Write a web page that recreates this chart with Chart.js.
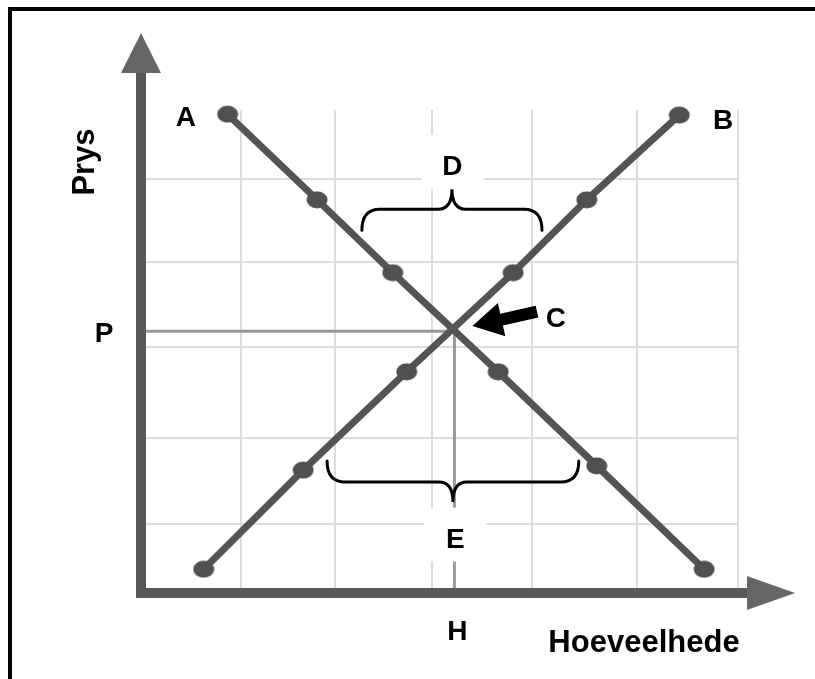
<!DOCTYPE html>
<html>
<head>
<meta charset="utf-8">
<title>Prys en Hoeveelhede</title>
<script src="https://cdn.jsdelivr.net/npm/chart.js@4/dist/chart.umd.min.js"></script>
<style>
  html, body { margin: 0; padding: 0; background: #fff; }
  canvas { display: block; }
</style>
</head>
<body>
<canvas id="chart" width="815" height="679"></canvas>
<script>
// Data
const xGridTicks = [1, 1.95, 2.92, 3.93, 4.98, 6];
const yGridTicks = [0.81, 1.83, 2.9, 3.91, 4.89];

const demandX = [0.87, 1.77, 2.53, 3.59, 4.58, 5.66];
const demandY = [5.65, 4.64, 3.78, 2.61, 1.5, 0.28];
const supplyX = [0.63, 1.63, 2.67, 3.74, 4.48, 5.41];
const supplyY = [0.28, 1.45, 2.61, 3.78, 4.64, 5.64];

const equilibriumQ = 3.15; // H
const equilibriumP = 3.09; // P

const labelNames = ['A', 'B', 'C', 'D', 'E', 'H', 'P'];
const labelX = [0.45, 5.85, 4.17, 3.13, 3.16, 3.18, -0.37];
const labelY = [5.61, 5.58, 3.24, 5.03, 0.63, -0.45, 3.07];
// D and E sit on a white patch that hides the grid behind them
const labelsWithPatch = ['D', 'E'];

// Braces: [x start, x end, y of the bar], D opens downward, E opens upward
const braceD = [2.22, 4.03, 4.53];
const braceE = [1.87, 4.4, 1.31];

// Arrow pointing at C: tail and tip
const arrowTail = [3.98, 3.32];
const arrowTip = [3.33, 3.15];

const pointsOf = (xs, ys) => xs.map((x, i) => ({ x, y: ys[i] }));

// Slightly flattened dots like in the picture
function makeDot() {
  const c = document.createElement('canvas');
  c.width = 22;
  c.height = 18;
  const g = c.getContext('2d');
  g.fillStyle = '#505050';
  g.beginPath();
  g.ellipse(11, 9, 10.5, 8.5, 0, 0, Math.PI * 2);
  g.fill();
  return c;
}
const dot = makeDot();

// Frame, axes with arrow heads, braces, arrow and labels
const decorations = {
  id: 'decorations',
  beforeDraw(chart) {
    const ctx = chart.ctx;
    ctx.save();
    ctx.strokeStyle = '#000';
    ctx.lineWidth = 4;
    ctx.strokeRect(10, 9, 900, 800);
    ctx.restore();
  },
  afterDatasetsDraw(chart) {
    const ctx = chart.ctx;
    const xs = chart.scales.x;
    const ys = chart.scales.y;
    const x0 = xs.getPixelForValue(0);
    const y0 = ys.getPixelForValue(0);

    ctx.save();
    // white patches behind D and E
    ctx.fillStyle = '#fff';
    labelNames.forEach((name, i) => {
      if (!labelsWithPatch.includes(name)) return;
      const px = xs.getPixelForValue(labelX[i]);
      const py = ys.getPixelForValue(labelY[i]);
      ctx.fillRect(px - 31, py - 32, 62, 54);
    });

    // axes
    ctx.strokeStyle = '#585858';
    ctx.lineWidth = 10;
    ctx.lineCap = 'butt';
    ctx.beginPath();
    ctx.moveTo(x0, y0 + 5);
    ctx.lineTo(x0, 70);
    ctx.moveTo(x0 - 5, y0);
    ctx.lineTo(750, y0);
    ctx.stroke();

    ctx.fillStyle = '#666';
    ctx.beginPath();
    ctx.moveTo(x0, 33);
    ctx.lineTo(x0 + 20, 73);
    ctx.lineTo(x0 - 20, 73);
    ctx.closePath();
    ctx.fill();
    ctx.beginPath();
    ctx.moveTo(795, y0);
    ctx.lineTo(747, y0 - 17);
    ctx.lineTo(747, y0 + 17);
    ctx.closePath();
    ctx.fill();

    // braces
    function brace(b, dir) {
      const a = xs.getPixelForValue(b[0]);
      const e = xs.getPixelForValue(b[1]);
      const y = ys.getPixelForValue(b[2]);
      const c = (a + e) / 2;
      const d = 21 * dir;
      const k = 20 * dir;
      ctx.beginPath();
      ctx.moveTo(a, y + d);
      ctx.quadraticCurveTo(a, y, a + 18, y);
      ctx.lineTo(c - 14, y);
      ctx.quadraticCurveTo(c, y, c, y - k);
      ctx.quadraticCurveTo(c, y, c + 14, y);
      ctx.lineTo(e - 18, y);
      ctx.quadraticCurveTo(e, y, e, y + d);
      ctx.stroke();
    }
    ctx.strokeStyle = '#000';
    ctx.lineWidth = 3;
    ctx.lineCap = 'round';
    brace(braceD, 1);
    brace(braceE, -1);

    // arrow to C
    const tx = xs.getPixelForValue(arrowTail[0]);
    const ty = ys.getPixelForValue(arrowTail[1]);
    const hx = xs.getPixelForValue(arrowTip[0]);
    const hy = ys.getPixelForValue(arrowTip[1]);
    const len = Math.hypot(hx - tx, hy - ty);
    const ux = (hx - tx) / len, uy = (hy - ty) / len;
    const nx = -uy, ny = ux;
    const bx = hx - ux * 30, by = hy - uy * 30;
    ctx.fillStyle = '#000';
    ctx.beginPath();
    ctx.moveTo(tx + nx * 6, ty + ny * 6);
    ctx.lineTo(bx + nx * 6, by + ny * 6);
    ctx.lineTo(bx + nx * 17, by + ny * 17);
    ctx.lineTo(hx, hy);
    ctx.lineTo(bx - nx * 17, by - ny * 17);
    ctx.lineTo(bx - nx * 6, by - ny * 6);
    ctx.lineTo(tx - nx * 6, ty - ny * 6);
    ctx.closePath();
    ctx.fill();

    // labels
    ctx.fillStyle = '#000';
    ctx.textAlign = 'center';
    ctx.textBaseline = 'middle';
    ctx.font = 'bold 28px "Liberation Sans", Arial, sans-serif';
    labelNames.forEach((name, i) => {
      ctx.fillText(name, xs.getPixelForValue(labelX[i]), ys.getPixelForValue(labelY[i]) + 1);
    });

    ctx.font = 'bold 31px "Liberation Sans", Arial, sans-serif';
    ctx.fillText('Hoeveelhede', 644, 643);
    ctx.translate(85, 162);
    ctx.rotate(-Math.PI / 2);
    ctx.fillText('Prys', 0, 0);
    ctx.restore();
  }
};

const ctx = document.getElementById('chart').getContext('2d');

new Chart(ctx, {
  type: 'line',
  data: {
    datasets: [
      {
        label: 'Vraag',
        data: pointsOf(demandX, demandY),
        borderColor: '#545454',
        borderWidth: 7,
        pointStyle: dot,
        pointRadius: 9,
        clip: false
      },
      {
        label: 'Aanbod',
        data: pointsOf(supplyX, supplyY),
        borderColor: '#545454',
        borderWidth: 7,
        pointStyle: dot,
        pointRadius: 9,
        clip: false
      },
      {
        label: 'P',
        data: [{ x: 0, y: equilibriumP }, { x: equilibriumQ, y: equilibriumP }],
        borderColor: '#999',
        borderWidth: 3,
        pointRadius: 0
      },
      {
        label: 'H',
        data: [{ x: equilibriumQ, y: 0 }, { x: equilibriumQ, y: equilibriumP }],
        borderColor: '#999',
        borderWidth: 3,
        pointRadius: 0
      }
    ]
  },
  options: {
    responsive: false,
    devicePixelRatio: 1,
    animation: false,
    layout: { padding: { left: 141, right: 77, top: 110, bottom: 86 } },
    plugins: {
      legend: { display: false },
      tooltip: { enabled: false }
    },
    scales: {
      x: {
        type: 'linear',
        min: 0,
        max: 6,
        afterBuildTicks: scale => { scale.ticks = xGridTicks.map(v => ({ value: v })); },
        afterFit: scale => { scale.height = 0; },
        ticks: { display: false },
        border: { display: false },
        grid: { color: '#dcdcdc', lineWidth: 2, drawTicks: false }
      },
      y: {
        type: 'linear',
        min: 0,
        max: 5.7,
        afterBuildTicks: scale => { scale.ticks = yGridTicks.map(v => ({ value: v })); },
        afterFit: scale => { scale.width = 0; },
        ticks: { display: false },
        border: { display: false },
        grid: { color: '#dcdcdc', lineWidth: 2, drawTicks: false }
      }
    }
  },
  plugins: [decorations]
});
</script>
</body>
</html>
